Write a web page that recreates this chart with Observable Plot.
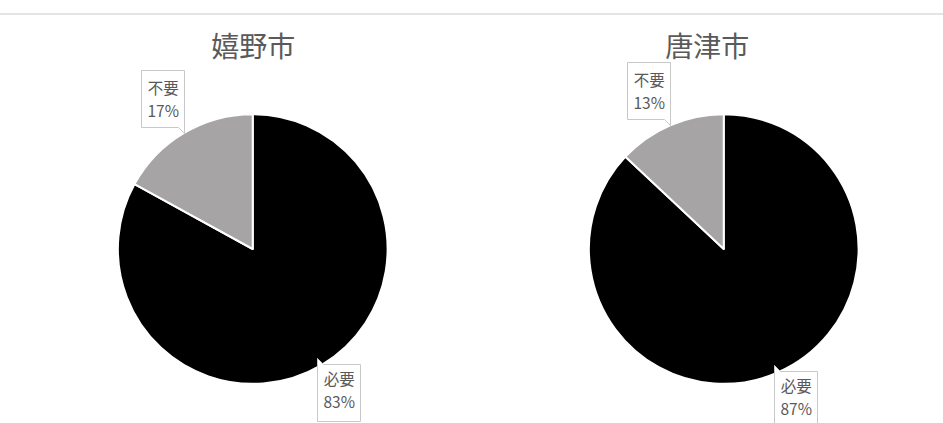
<!DOCTYPE html>
<html>
<head>
<meta charset="utf-8">
<script src="https://cdn.jsdelivr.net/npm/d3@7"></script>
<script src="https://cdn.jsdelivr.net/npm/@observablehq/plot@0.6"></script>
<style>
  html, body { margin: 0; padding: 0; background: #fff; }
  #wrap { position: relative; width: 943px; height: 423px; }
  #topline { position: absolute; left: 0; top: 13px; width: 943px; height: 2px; background: #e4e4e4; }
  g[aria-label="tip"] text { fill: #595959; }
</style>
</head>
<body>
<div id="wrap"><div id="topline"></div></div>
<script>
// ---- data ----
const cities = ["嬉野市", "唐津市"];
const categories = ["必要", "不要"];
const values嬉野市 = [83, 17];
const values唐津市 = [87, 13];
const seriesValues = [values嬉野市, values唐津市];
const colors = ["#000000", "#a6a4a4"];

// ---- build slices with d3.pie ----
const pie = d3.pie().sort(null).value(d => d.value);
const slices = [];
cities.forEach((city, ci) => {
  const rows = categories.map((label, k) => ({city, label, value: seriesValues[ci][k]}));
  for (const a of pie(rows)) {
    const mid = (a.startAngle + a.endAngle) / 2;
    slices.push({...a.data, startAngle: a.startAngle, endAngle: a.endAngle, mid});
  }
});

const R = 135;           // pie radius in px
const cx = 252, cy = 249; // pie center inside each facet
const W = 943, H = 423;
const facetW = W / 2;

const labelR = d => d.label === "必要" ? 0.94 : 1.0;

const tipCommon = {
  fx: "city",
  x: d => labelR(d) * Math.sin(d.mid),
  y: d => labelR(d) * Math.cos(d.mid),
  title: d => `${d.label}\n${d.value}%`,
  fontSize: 15.5,
  fontFamily: "Noto Sans CJK JP",
  lineHeight: 1.5,
  textPadding: 6,
  textAnchor: "middle",
  pointerSize: 6,
  fill: "white",
  stroke: "#c8c8c8",
  pathFilter: "none"
};

const chart = Plot.plot({
  width: W,
  height: H,
  margin: 0,
  style: {background: "white", fontFamily: "Noto Sans CJK JP"},
  fx: {domain: cities, padding: 0, axis: null},
  x: {domain: [-cx / R, (facetW - cx) / R], axis: null},
  y: {domain: [-(H - cy) / R, cy / R], axis: null},
  color: {domain: categories, range: colors},
  marks: [
    Plot.dot(slices, {
      fx: "city",
      x: () => 0,
      y: () => 0,
      fill: "label",
      render(index, scales, values) {
        const g = d3.create("svg:g").attr("aria-label", "pie");
        const r = scales.x(1) - scales.x(0);
        const arc = d3.arc().innerRadius(0).outerRadius(r);
        for (const i of index) {
          g.append("path")
            .attr("transform", `translate(${values.x[i]},${values.y[i]})`)
            .attr("d", arc(slices[i]))
            .attr("fill", values.fill[i])
            .attr("stroke", "white")
            .attr("stroke-width", 2)
            .attr("stroke-linejoin", "round");
        }
        return g.node();
      }
    }),
    Plot.text([cities[0]], {
      fx: d => d, text: d => d, frameAnchor: "top", x: () => 0,
      dy: 48, lineAnchor: "middle", fontSize: 28, fill: "#5a5a5a"
    }),
    Plot.text([cities[1]], {
      fx: d => d, text: d => d, frameAnchor: "top", x: () => 0,
      dx: -17, dy: 48, lineAnchor: "middle", fontSize: 28, fill: "#5a5a5a"
    }),
    Plot.tip(slices.filter(d => d.label === "不要"), {...tipCommon, anchor: "bottom-right"}),
    Plot.tip(slices.filter(d => d.label === "必要"), {...tipCommon, anchor: "top-left"})
  ]
});
document.getElementById("wrap").appendChild(chart);
</script>
</body>
</html>
